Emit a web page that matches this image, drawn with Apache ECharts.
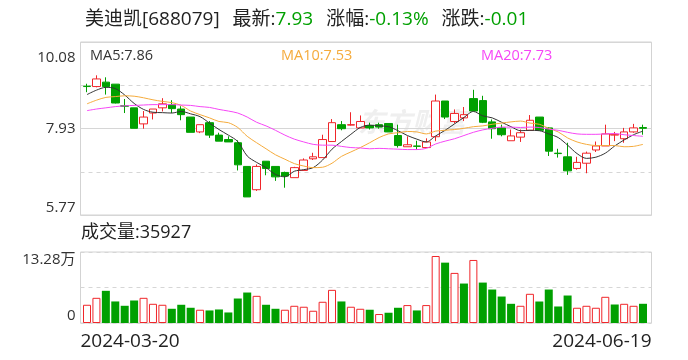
<!DOCTYPE html>
<html><head><meta charset="utf-8">
<script src="https://cdn.jsdelivr.net/npm/echarts@6.0.0/dist/echarts.min.js"></script>
<style>html,body{margin:0;padding:0;background:#fff}#c{width:688px;height:360px}</style>
</head><body><div id="c"></div>
<script>
const stockName = '美迪凯[688079]';
const latestPrice = '7.93';
const changePct = '-0.13%';
const changeAmt = '-0.01';
const latestVolume = '35927';
const maLabels = ['MA5:7.86', 'MA10:7.53', 'MA20:7.73'];
const priceTickLabels = ['5.77', '', '7.93', '', '10.08'];
const volTickLabels = ['0', '', '13.28万'];
const priceMin = 5.77, priceMax = 10.08;
const volMax = 132800;
const prevClose = 8.90;

const dates = ['2024-03-20','2024-03-21','2024-03-22','2024-03-25','2024-03-26','2024-03-27','2024-03-28','2024-03-29',
'2024-04-01','2024-04-02','2024-04-03','2024-04-08','2024-04-09','2024-04-10','2024-04-11','2024-04-12','2024-04-15','2024-04-16','2024-04-17','2024-04-18','2024-04-19','2024-04-22','2024-04-23','2024-04-24','2024-04-25','2024-04-26','2024-04-29','2024-04-30',
'2024-05-06','2024-05-07','2024-05-08','2024-05-09','2024-05-10','2024-05-13','2024-05-14','2024-05-15','2024-05-16','2024-05-17','2024-05-20','2024-05-21','2024-05-22','2024-05-23','2024-05-24','2024-05-27','2024-05-28','2024-05-29','2024-05-30','2024-05-31',
'2024-06-03','2024-06-04','2024-06-05','2024-06-06','2024-06-07','2024-06-11','2024-06-12','2024-06-13','2024-06-14','2024-06-17','2024-06-18','2024-06-19'];

const opens = [8.98,8.97,9.08,9.03,8.49,8.44,8.04,8.31,8.44,8.52, 8.41,8.21,7.84,8.07,7.76,7.65,7.57,6.98,6.40,7.11, 6.98,6.83,6.70,6.88,7.17,7.20,7.60,8.02,8.01,7.94, 8.00,8.02,8.05,7.75,7.47,7.49,7.45,7.72,8.61,8.10, 8.19,8.67,8.62,8.09,7.94,7.62,7.71,7.88,8.21,7.94, 7.31,7.22,6.93,7.06,7.39,7.49,7.76,7.67,7.84,7.95];
const closes = [8.97,9.16,8.97,8.56,8.48,7.93,8.21,8.41,8.54,8.42, 8.27,7.83,8.02,7.76,7.61,7.59,7.02,6.22,6.98,6.93, 6.72,6.74,6.95,7.14,7.22,7.65,8.07,7.92,8.02,8.10, 7.94,7.96,7.84,7.50,7.52,7.48,7.59,8.61,8.21,8.30, 8.27,8.36,8.08,7.92,7.77,7.74,7.82,8.13,7.88,7.36, 7.30,6.87,7.08,7.31,7.49,7.79,7.78,7.84,7.94,7.93];
const lows = [8.83,8.95,8.77,8.55,8.31,7.93,7.92,8.15,8.35,8.31, 8.13,7.83,7.81,7.69,7.61,7.59,6.88,6.22,6.37,6.76, 6.62,6.45,6.70,6.88,7.14,7.20,7.60,7.88,8.00,7.94, 7.90,7.92,7.84,7.45,7.47,7.40,7.45,7.61,8.16,8.05, 8.11,8.36,8.06,7.67,7.73,7.62,7.59,7.88,7.88,7.24, 7.20,6.77,6.90,6.81,7.34,7.49,7.61,7.57,7.82,7.77];
const highs = [9.04,9.25,9.20,9.03,8.66,8.44,8.36,8.41,8.68,8.63, 8.48,8.21,8.02,8.11,7.82,7.73,7.63,6.98,7.03,7.11, 6.98,6.85,6.97,7.18,7.32,7.77,8.16,8.11,8.33,8.25, 8.07,8.07,8.05,8.02,7.73,7.62,7.68,8.77,8.61,8.40, 8.46,8.89,8.74,8.15,8.02,7.90,7.90,8.26,8.21,7.96, 7.42,7.57,7.22,7.35,7.60,8.02,7.84,7.94,8.04,8.02];
const volumes = [34100,47100,60200,40300,32200,42100,47100,35900,34100,26600, 34100,28500,24800,23500,25300,19700,45800,57000,50800,34100, 26600,24800,32200,30400,22900,39700,62000,40300,30400,26600, 24800,16800,19200,28500,33500,23500,33500,125300,112900,93700, 73800,117900,75600,62600,49500,35900,32200,54600,40200,62600, 30900,51400,28500,32200,28500,49000,34600,35900,32200,35927];
const ma5 = [8.77,8.88,8.95,8.92,8.76,8.55,8.40,8.33,8.32,8.31, 8.35,8.29,8.22,8.06,7.90,7.76,7.60,7.24,7.08,6.95, 6.78,6.72,6.86,6.90,6.95,7.14,7.41,7.60,7.78,7.95, 8.01,7.99,7.97,7.87,7.75,7.66,7.59,7.74,7.88,8.04, 8.20,8.35,8.24,8.19,8.08,7.97,7.87,7.88,7.87,7.79, 7.70,7.51,7.30,7.18,7.21,7.31,7.49,7.64,7.77,7.86];
const ma10 = [8.54,8.63,8.70,8.72,8.74,8.73,8.69,8.64,8.60,8.57, 8.50,8.36,8.27,8.19,8.10,8.07,7.95,7.73,7.57,7.42, 7.27,7.16,7.05,6.99,6.95,6.96,7.06,7.23,7.34,7.45, 7.57,7.70,7.79,7.82,7.85,7.84,7.79,7.86,7.88,7.90, 7.93,7.97,7.99,8.03,8.06,8.09,8.11,8.06,8.03,7.93, 7.84,7.69,7.59,7.53,7.50,7.50,7.50,7.47,7.48,7.53];
const ma20 = [8.37,8.41,8.44,8.47,8.49,8.50,8.51,8.52,8.52,8.52, 8.51,8.50,8.47,8.45,8.40,8.36,8.31,8.21,8.08,7.99, 7.88,7.76,7.66,7.59,7.53,7.51,7.51,7.48,7.45,7.44, 7.42,7.43,7.42,7.41,7.40,7.40,7.43,7.54,7.61,7.67, 7.75,7.83,7.89,7.93,7.96,7.96,7.95,7.96,7.95,7.91, 7.88,7.83,7.79,7.78,7.78,7.79,7.80,7.77,7.75,7.73];

const RED = '#f0262a', GREEN = '#00a000';
const C_MA5 = '#333333', C_MA10 = '#f5ab3c', C_MA20 = '#f646f6';
const FONT = '"Open Sans","Noto Sans CJK SC",sans-serif';
const FL = 80.5, FW = 571, DL = 82.3, DW = 565.4;

const candleData = dates.map((d, i) => [opens[i], closes[i], lows[i], highs[i]]);
const volData = volumes.map((v, i) => {
  const ref = i === 0 ? prevClose : closes[i - 1];
  const up = closes[i] >= ref;
  return { value: v, itemStyle: up ? { color: '#ffffff', borderColor: RED, borderWidth: 1 } : { color: GREEN, borderColor: GREEN, borderWidth: 0 } };
});

const chart = echarts.init(document.getElementById('c'), null, { renderer: 'canvas' });
const lastIdx = dates.length - 1;
const nTicks = priceTickLabels.length - 1;
const option = {
  animation: false,
  textStyle: { fontFamily: FONT },
  title: [
    { left: 85, top: 8, padding: 0,
      text: `{n|${stockName}}{gap| }{n|最新:}{g|${latestPrice}}{gap| }{n|涨幅:}{g|${changePct}}{gap| }{n|涨跌:}{g|${changeAmt}}`,
      textStyle: { fontWeight: 'normal', rich: {
        n: { fontSize: 19, fontWeight: 'normal', color: '#222', fontFamily: FONT, lineHeight: 24 },
        g: { fontSize: 19, fontWeight: 'normal', color: GREEN, fontFamily: FONT, lineHeight: 24 },
        gap: { width: 13, fontSize: 19, lineHeight: 24 } } } },
    { left: 90, top: 47, padding: 0, text: maLabels[0], textStyle: { fontSize: 14.5, fontWeight: 'normal', color: C_MA5, fontFamily: FONT, lineHeight: 18 } },
    { left: 281, top: 47, padding: 0, text: maLabels[1], textStyle: { fontSize: 14.5, fontWeight: 'normal', color: C_MA10, fontFamily: FONT, lineHeight: 18 } },
    { left: 481, top: 47, padding: 0, text: maLabels[2], textStyle: { fontSize: 14.5, fontWeight: 'normal', color: C_MA20, fontFamily: FONT, lineHeight: 18 } },
    { left: 81, top: 222, padding: 0, text: '成交量:' + latestVolume, textStyle: { fontSize: 18, fontWeight: 'normal', color: '#222', fontFamily: FONT, lineHeight: 22 } }
  ],
  graphic: [
    { type: 'text', left: 358, top: 111, z: -10, silent: true,
      style: { text: '东方财富', fontSize: 27, fontWeight: 'bold', fontStyle: 'italic', fill: '#efefef', fontFamily: FONT } }
  ],
  grid: [
    { left: FL, top: 42, width: FW, height: 173, show: true, borderColor: '#d3d3d3', borderWidth: 1, backgroundColor: 'transparent' },
    { left: DL, top: 42, width: DW, height: 173 },
    { left: FL, top: 252, width: FW, height: 71, show: true, borderColor: '#d3d3d3', borderWidth: 1, backgroundColor: 'transparent' },
    { left: DL, top: 252, width: DW, height: 71 }
  ],
  xAxis: [
    { gridIndex: 0, type: 'category', data: dates, boundaryGap: false, show: false },
    { gridIndex: 1, type: 'category', data: dates, boundaryGap: true, show: false },
    { gridIndex: 2, type: 'category', data: dates, boundaryGap: false,
      axisLine: { show: false }, axisTick: { show: false }, splitLine: { show: false },
      axisLabel: { interval: (i) => i === 0 || i === lastIdx, fontSize: 19, color: '#222', margin: 9,
        fontFamily: FONT, alignMinLabel: 'left', alignMaxLabel: 'right', showMinLabel: true, showMaxLabel: true } },
    { gridIndex: 3, type: 'category', data: dates, boundaryGap: true, show: false }
  ],
  yAxis: [
    { gridIndex: 0, type: 'value', min: 0, max: nTicks, interval: 1,
      axisLine: { show: false }, axisTick: { show: false },
      axisLabel: { formatter: (v) => { const k = Math.round(v); const t = priceTickLabels[k]; return t ? (k === nTicks ? '{t|' + t + '}' : t) : ''; },
        fontSize: 15, color: '#333', margin: 5, fontFamily: FONT,
        rich: { t: { fontSize: 15, color: '#333', fontFamily: FONT, padding: [8, 0, 0, 0] } },
        verticalAlignMinLabel: 'bottom', verticalAlignMaxLabel: 'top' },
      splitLine: { show: true, lineStyle: { type: [4, 4], color: '#d6d6d6', width: 1 } } },
    { gridIndex: 0, type: 'value', min: 0, max: nTicks, interval: 2, position: 'left',
      axisLine: { show: false }, axisTick: { show: false }, axisLabel: { show: false },
      splitLine: { show: true, lineStyle: { type: 'solid', color: '#d6d6d6', width: 1 } } },
    { gridIndex: 1, type: 'value', min: priceMin, max: priceMax, show: false, splitLine: { show: false } },
    { gridIndex: 2, type: 'value', min: 0, max: 2, interval: 1,
      axisLine: { show: false }, axisTick: { show: false },
      axisLabel: { formatter: (v) => volTickLabels[Math.round(v)], fontSize: 15, color: '#333', margin: 5, fontFamily: FONT,
        verticalAlignMinLabel: 'bottom', verticalAlignMaxLabel: 'top' },
      splitLine: { show: true, lineStyle: { type: [4, 4], color: '#d6d6d6', width: 1 } } },
    { gridIndex: 3, type: 'value', min: 0, max: volMax, show: false, splitLine: { show: false } }
  ],
  series: [
    { type: 'candlestick', xAxisIndex: 1, yAxisIndex: 2, data: candleData, barWidth: 8,
      itemStyle: { color: '#ffffff', color0: GREEN, borderColor: RED, borderColor0: GREEN, borderWidth: 1 } },
    { type: 'line', xAxisIndex: 1, yAxisIndex: 2, data: ma5, symbol: 'none', smooth: 0.3,
      lineStyle: { color: C_MA5, width: 1 }, z: 5 },
    { type: 'line', xAxisIndex: 1, yAxisIndex: 2, data: ma10, symbol: 'none', smooth: 0.3,
      lineStyle: { color: C_MA10, width: 1 }, z: 5 },
    { type: 'line', xAxisIndex: 1, yAxisIndex: 2, data: ma20, symbol: 'none', smooth: 0.3,
      lineStyle: { color: C_MA20, width: 1 }, z: 5 },
    { type: 'bar', xAxisIndex: 3, yAxisIndex: 4, data: volData, barWidth: 8 }
  ]
};
chart.setOption(option);
</script>
</body></html>
